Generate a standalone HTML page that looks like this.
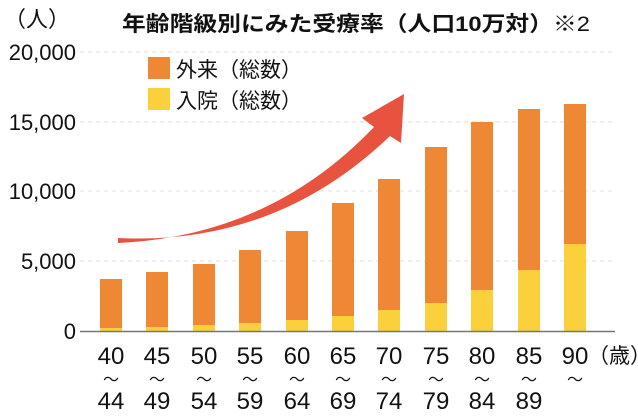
<!DOCTYPE html>
<html><head><meta charset="utf-8"><style>
body{margin:0;background:#fff;}
svg{display:block;font-family:"Liberation Sans","Noto Sans CJK JP",sans-serif;}
</style></head><body>
<svg width="638" height="416" viewBox="0 0 638 416">
<g stroke="#ddd" stroke-dasharray="4,4" stroke-width="1">
<line x1="80" y1="52" x2="615" y2="52"/>
<line x1="80" y1="122" x2="615" y2="122"/>
<line x1="80" y1="191" x2="615" y2="191"/>
<line x1="80" y1="261" x2="615" y2="261"/>
</g>
<g font-size="22" fill="#111" text-anchor="end">
<text x="76" y="60">20,000</text>
<text x="76" y="130">15,000</text>
<text x="76" y="199">10,000</text>
<text x="76" y="269">5,000</text>
<text x="76" y="339">0</text>
</g>
<text x="4" y="27" font-size="22" fill="#111">（人）</text>
<text x="122" y="31" font-size="21" font-weight="bold" fill="#111" textLength="468" lengthAdjust="spacingAndGlyphs">年齢階級別にみた受療率（人口10万対）<tspan font-weight="normal">※2</tspan></text>
<rect x="148" y="57" width="22" height="22" fill="#ef8834"/>
<text x="176" y="77" font-size="21" fill="#111">外来（総数）</text>
<rect x="148" y="88" width="22" height="22" fill="#fad13b"/>
<text x="176" y="108" font-size="21" fill="#111">入院（総数）</text>
<g id="bars">
<rect x="100" y="279" width="22" height="52" fill="#ef8834"/><rect x="100" y="328" width="22" height="3" fill="#fad13b"/>
<rect x="146" y="272" width="22" height="59" fill="#ef8834"/><rect x="146" y="327" width="22" height="4" fill="#fad13b"/>
<rect x="193" y="264" width="22" height="67" fill="#ef8834"/><rect x="193" y="325" width="22" height="6" fill="#fad13b"/>
<rect x="239" y="250" width="22" height="81" fill="#ef8834"/><rect x="239" y="323" width="22" height="8" fill="#fad13b"/>
<rect x="286" y="231" width="22" height="100" fill="#ef8834"/><rect x="286" y="320" width="22" height="11" fill="#fad13b"/>
<rect x="332" y="203" width="22" height="128" fill="#ef8834"/><rect x="332" y="316" width="22" height="15" fill="#fad13b"/>
<rect x="378" y="179" width="22" height="152" fill="#ef8834"/><rect x="378" y="310" width="22" height="21" fill="#fad13b"/>
<rect x="425" y="147" width="22" height="184" fill="#ef8834"/><rect x="425" y="303" width="22" height="28" fill="#fad13b"/>
<rect x="471" y="122" width="22" height="209" fill="#ef8834"/><rect x="471" y="290" width="22" height="41" fill="#fad13b"/>
<rect x="518" y="109" width="22" height="222" fill="#ef8834"/><rect x="518" y="270" width="22" height="61" fill="#fad13b"/>
<rect x="564" y="104" width="22" height="227" fill="#ef8834"/><rect x="564" y="244" width="22" height="87" fill="#fad13b"/>
</g>
<line x1="80" y1="331.5" x2="615" y2="331.5" stroke="#777" stroke-width="1.5"/>
<path d="M118 243 Q270 236 374 127 L362 118 L404 94 L401 143 L390 136 Q275 246 118 238 Z" fill="#e8533f"/>
<g font-size="24" fill="#111" text-anchor="middle">
<text x="111" y="364">40</text><text x="111" y="409">44</text>
<text x="157" y="364">45</text><text x="157" y="409">49</text>
<text x="204" y="364">50</text><text x="204" y="409">54</text>
<text x="250" y="364">55</text><text x="250" y="409">59</text>
<text x="297" y="364">60</text><text x="297" y="409">64</text>
<text x="343" y="364">65</text><text x="343" y="409">69</text>
<text x="389" y="364">70</text><text x="389" y="409">74</text>
<text x="436" y="364">75</text><text x="436" y="409">79</text>
<text x="482" y="364">80</text><text x="482" y="409">84</text>
<text x="529" y="364">85</text><text x="529" y="409">89</text>
<text x="575" y="364">90</text>
</g>
<g font-size="16" fill="#111" text-anchor="middle">
<text x="111" y="385">～</text><text x="157" y="385">～</text><text x="204" y="385">～</text><text x="250" y="385">～</text><text x="297" y="385">～</text><text x="343" y="385">～</text><text x="389" y="385">～</text><text x="436" y="385">～</text><text x="482" y="385">～</text><text x="529" y="385">～</text><text x="575" y="385">～</text>
</g>
<text x="588" y="363" font-size="21" fill="#111">（歳）</text>
</svg>
</body></html>
